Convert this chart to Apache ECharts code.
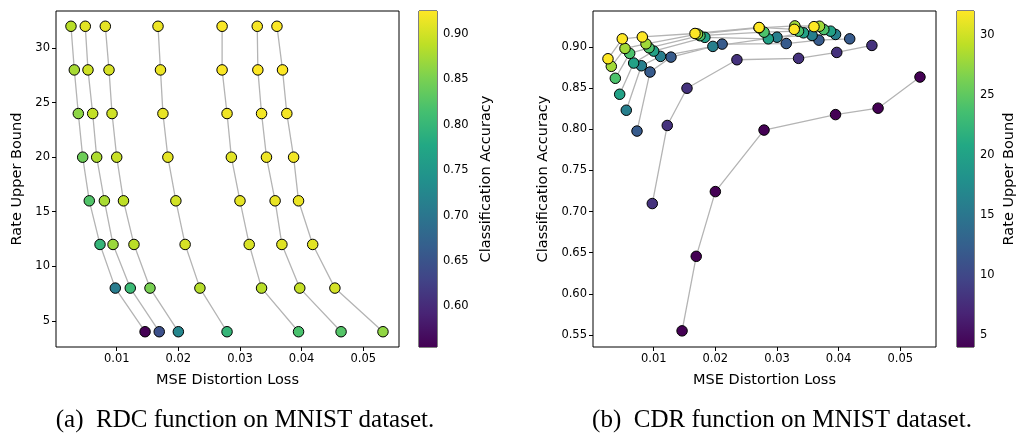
<!DOCTYPE html>
<html lang="en">
  <head>
    <meta charset="UTF-8" />
    <title>RDC / CDR on MNIST</title>
    <script src="https://cdn.jsdelivr.net/npm/echarts@6/dist/echarts.min.js"></script>
    <style>
      body { margin: 0; background: #fff; }
    </style>
  </head>
  <body>
    <div id="main" style="width: 1019px; height: 435px"></div>
    <script type="text/javascript">
      // rate upper bounds (rows), each row holds the 7 runs (columns)
      const rates = [4, 8, 12, 16, 20, 24, 28, 32];
      const mse = [
        [0.0146, 0.0169, 0.02, 0.0279, 0.0395, 0.0464, 0.0532],
        [0.00977, 0.0122, 0.0154, 0.0235, 0.0335, 0.0397, 0.0454],
        [0.00729, 0.0094, 0.0128, 0.0211, 0.0315, 0.0368, 0.0418],
        [0.00555, 0.008, 0.0111, 0.0196, 0.03, 0.0357, 0.0395],
        [0.00448, 0.00675, 0.01, 0.0183, 0.0286, 0.0343, 0.0387],
        [0.00377, 0.0061, 0.00924, 0.0175, 0.0279, 0.0335, 0.0376],
        [0.00312, 0.00534, 0.00875, 0.0171, 0.0271, 0.0329, 0.0369],
        [0.00258, 0.0049, 0.00815, 0.0167, 0.0271, 0.0328, 0.036],
      ];
      const accuracy = [
        [0.5551, 0.6456, 0.7242, 0.7989, 0.8177, 0.8255, 0.8633],
        [0.7097, 0.8045, 0.8497, 0.8843, 0.886, 0.8932, 0.9017],
        [0.7977, 0.8694, 0.8875, 0.9033, 0.904, 0.9081, 0.9097],
        [0.823, 0.877, 0.8884, 0.9005, 0.9117, 0.9138, 0.915],
        [0.8424, 0.8803, 0.8948, 0.9115, 0.9097, 0.917, 0.919],
        [0.8618, 0.892, 0.8988, 0.9135, 0.9178, 0.919, 0.921],
        [0.8763, 0.898, 0.9036, 0.9155, 0.923, 0.9254, 0.925],
        [0.8855, 0.9097, 0.912, 0.9162, 0.9235, 0.9212, 0.9245],
      ];

      // tick labels
      const mseTicks = [0.01, 0.02, 0.03, 0.04, 0.05];
      const rateTicks = [5, 10, 15, 20, 25, 30];
      const accTicks = [0.55, 0.6, 0.65, 0.7, 0.75, 0.8, 0.85, 0.9];
      const accBarTicks = [0.6, 0.65, 0.7, 0.75, 0.8, 0.85, 0.9];

      const viridis = ["#440154", "#482475", "#414487", "#355f8d", "#2a788e",
        "#21918c", "#22a884", "#44bf70", "#7ad151", "#bddf26", "#fde725"];

      const accMin = Math.min(...accuracy.flat());
      const accMax = Math.max(...accuracy.flat());
      const nRuns = mse[0].length;

      const font = "DejaVu Sans";
      const lineGray = "#b4b4b4";

      function axisBase(ticks, fmt) {
        return {
          type: "value",
          axisLine: { show: false },
          splitLine: { show: false },
          axisTick: { show: true, inside: false, length: 4, customValues: ticks,
            lineStyle: { color: "#000", width: 1 } },
          axisLabel: { show: true, customValues: ticks, margin: 6, color: "#000",
            fontFamily: font, fontSize: 11.5, formatter: fmt },
          nameTextStyle: { fontFamily: font, fontSize: 14.5, color: "#000" },
        };
      }
      const f2 = (v) => v.toFixed(2);
      const f0 = (v) => String(v);

      // scatter data
      const rdcPoints = [];
      const cdrPoints = [];
      rates.forEach((r, i) => {
        for (let j = 0; j < nRuns; j++) {
          rdcPoints.push([mse[i][j], r, accuracy[i][j]]);
          cdrPoints.push([mse[i][j], accuracy[i][j], r]);
        }
      });

      const series = [];
      // RDC: one line per run through all rates
      for (let j = 0; j < nRuns; j++) {
        series.push({
          type: "line", xAxisIndex: 0, yAxisIndex: 0, showSymbol: false, silent: true,
          lineStyle: { color: lineGray, width: 1.3 }, z: 1,
          data: rates.map((r, i) => [mse[i][j], r]),
        });
      }
      // CDR: one line per rate through all runs
      rates.forEach((r, i) => {
        series.push({
          type: "line", xAxisIndex: 2, yAxisIndex: 2, showSymbol: false, silent: true,
          lineStyle: { color: lineGray, width: 1.3 }, z: 1,
          data: mse[i].map((m, j) => [m, accuracy[i][j]]),
        });
      });
      const rdcIdx = series.length;
      series.push({
        type: "scatter", xAxisIndex: 0, yAxisIndex: 0, symbolSize: 10.5, z: 3,
        itemStyle: { borderColor: "#000", borderWidth: 1, opacity: 1 },
        data: rdcPoints,
      });
      const cdrIdx = series.length;
      series.push({
        type: "scatter", xAxisIndex: 2, yAxisIndex: 2, symbolSize: 10.5, z: 3,
        itemStyle: { borderColor: "#000", borderWidth: 1, opacity: 1 },
        data: cdrPoints,
      });

      // colorbars drawn as a gradient rect filling their grid
      const stops = viridis.map((c, k) => ({ offset: k / (viridis.length - 1), color: c }));
      function colorbar(idx) {
        return {
          type: "custom", xAxisIndex: idx, yAxisIndex: idx, silent: true, data: [0],
          renderItem: (params) => {
            const cs = params.coordSys;
            return {
              type: "rect",
              shape: { x: cs.x, y: cs.y, width: cs.width, height: cs.height },
              style: { fill: new echarts.graphic.LinearGradient(0, 1, 0, 0, stops) },
            };
          },
        };
      }
      series.push(colorbar(1));
      series.push(colorbar(3));

      const gridStyle = { show: true, borderColor: "#000", borderWidth: 1, containLabel: false };
      const captionStyle = { fontFamily: "Liberation Serif", fontSize: 25, fontWeight: "normal", color: "#000" };

      const option = {
        animation: false,
        backgroundColor: "#fff",
        title: [
          { text: "(a)  RDC function on MNIST dataset.", left: 240, top: 403, textAlign: "center",
            textStyle: captionStyle },
          { text: "(b)  CDR function on MNIST dataset.", left: 777, top: 403, textAlign: "center",
            textStyle: captionStyle },
        ],
        grid: [
          Object.assign({ left: 56, top: 11, width: 343, height: 336 }, gridStyle),
          Object.assign({ left: 419, top: 11, width: 18, height: 336 }, gridStyle),
          Object.assign({ left: 593, top: 11, width: 343, height: 336 }, gridStyle),
          Object.assign({ left: 957, top: 11, width: 17, height: 336 }, gridStyle),
        ],
        xAxis: [
          Object.assign(axisBase(mseTicks, f2), { gridIndex: 0, min: 0.00015, max: 0.0558,
            name: "MSE Distortion Loss", nameLocation: "middle", nameGap: 26 }),
          { type: "value", gridIndex: 1, min: 0, max: 1, show: false },
          Object.assign(axisBase(mseTicks, f2), { gridIndex: 2, min: 0.00015, max: 0.0558,
            name: "MSE Distortion Loss", nameLocation: "middle", nameGap: 26 }),
          { type: "value", gridIndex: 3, min: 0, max: 1, show: false },
        ],
        yAxis: [
          Object.assign(axisBase(rateTicks, f0), { gridIndex: 0, min: 2.6, max: 33.4,
            name: "Rate Upper Bound", nameLocation: "middle", nameGap: 31, nameRotate: 90 }),
          Object.assign(axisBase(accBarTicks, f2), { gridIndex: 1, position: "right", min: accMin, max: accMax,
            name: "Classification Accuracy", nameLocation: "middle", nameGap: 42, nameRotate: 90 }),
          Object.assign(axisBase(accTicks, f2), { gridIndex: 2, min: 0.5355, max: 0.9435,
            name: "Classification Accuracy", nameLocation: "middle", nameGap: 42, nameRotate: 90 }),
          Object.assign(axisBase(rateTicks, f0), { gridIndex: 3, position: "right", min: 4, max: 32,
            name: "Rate Upper Bound", nameLocation: "middle", nameGap: 28, nameRotate: 90 }),
        ],
        visualMap: [
          { type: "continuous", show: false, seriesIndex: rdcIdx, dimension: 2,
            min: accMin, max: accMax, inRange: { color: viridis } },
          { type: "continuous", show: false, seriesIndex: cdrIdx, dimension: 2,
            min: 4, max: 32, inRange: { color: viridis } },
        ],
        series: series,
      };

      let myChart = echarts.init(document.getElementById("main"));
      myChart.setOption(option);
    </script>
  </body>
</html>
